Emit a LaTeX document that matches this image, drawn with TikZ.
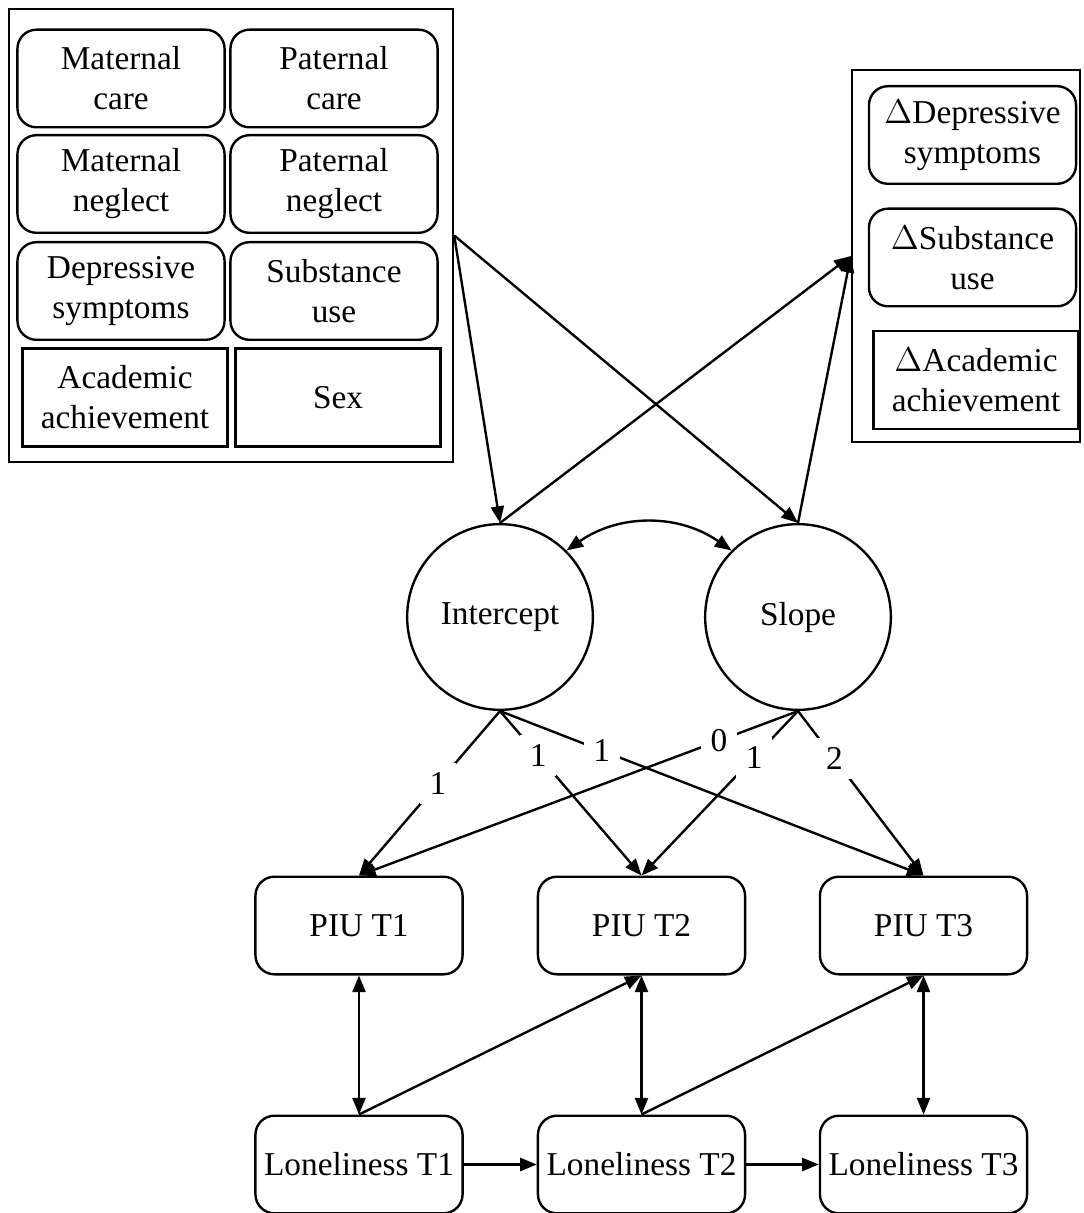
\documentclass[tikz,border=0pt]{standalone}
\usepackage{fontspec}
\setmainfont{Liberation Serif}
\usepackage{tikz}
\usetikzlibrary{arrows.meta,shapes}

\tikzset{
  rbox/.style={draw,rounded corners=8pt,minimum width=87pt,minimum height=41pt,align=center,inner sep=1pt},
  sbox/.style={draw,minimum width=86pt,minimum height=41pt,align=center,inner sep=1pt},
  latent/.style={draw,circle,minimum size=78pt,inner sep=0pt},
  lbl/.style={fill=white,inner sep=4pt},
}

\begin{document}
\begin{tikzpicture}[x=0.42pt,y=-0.42pt,line width=1pt,>={Triangle[length=7pt,width=5.5pt]},
  every node/.style={font=\fontsize{14}{16.8}\selectfont}]
\useasboundingbox (0,0) rectangle (1083,1213);
% covariates
\node[draw,minimum width=186.5pt,minimum height=190.3pt] (L) at (231,235.5) {};
\node[rbox] (mc) at (121,78.5) {Maternal\\care};
\node[rbox] (pc) at (334,78.5) {Paternal\\care};
\node[rbox] (mn) at (121,184) {Maternal\\neglect};
\node[rbox] (pn) at (334,184) {Paternal\\neglect};
\node[rbox] (ds) at (121,291) {Depressive\\symptoms};
\node[rbox] (su) at (334,291) {Substance\\use};
\node[sbox] (aa) at (125,397.5) {Academic\\achievement};
\node[sbox] (sex) at (338,397.5) {Sex};
% outcomes
\node[draw,minimum width=95.8pt,minimum height=156.2pt] (R) at (966,256) {};
\node[rbox] (dds) at (972.5,135) {$\Delta$Depressive\\symptoms};
\node[rbox] (dsu) at (972.5,257.5) {$\Delta$Substance\\use};
\node[sbox] (daa) at (976,380) {$\Delta$Academic\\achievement};
% growth factors
\node[latent] (I) at (500,617) {Intercept};
\node[latent] (S) at (798,617) {Slope};
% repeated measures
\node[rbox] (P1) at (359,925.5) {PIU T1};
\node[rbox] (P2) at (641.5,925.5) {PIU T2};
\node[rbox] (P3) at (923.5,925.5) {PIU T3};
\node[rbox] (N1) at (359,1164.5) {Loneliness T1};
\node[rbox] (N2) at (641.5,1164.5) {Loneliness T2};
\node[rbox] (N3) at (923.5,1164.5) {Loneliness T3};

\draw[->](L.east)--(I.north);
\draw[->](L.east)--(S.north);
\draw[->](I.north)--(R.west);
\draw[->](S.north)--(R.west);
\draw[<->](I.45) to[bend left=35] (S.135);

\draw[->](I.south)--node[lbl,pos=.44]{1}(P1.north);
\draw[->](I.south)--node[lbl,pos=.27]{1}(P2.north);
\draw[->](I.south)--node[lbl,pos=.24]{1}(P3.north);
\draw[->](S.south)--node[lbl,pos=.18]{0}(P1.north);
\draw[->](S.south)--node[lbl,pos=.28]{1}(P2.north);
\draw[->](S.south)--node[lbl,pos=.29]{2}(P3.north);

\draw[<->](P1.south)--(N1.north);
\draw[<->](P2.south)--(N2.north);
\draw[<->](P3.south)--(N3.north);
\draw[->](N1.north)--(P2.south);
\draw[->](N2.north)--(P3.south);
\draw[->](N1.east)--(N2.west);
\draw[->](N2.east)--(N3.west);
\end{tikzpicture}
\end{document}
